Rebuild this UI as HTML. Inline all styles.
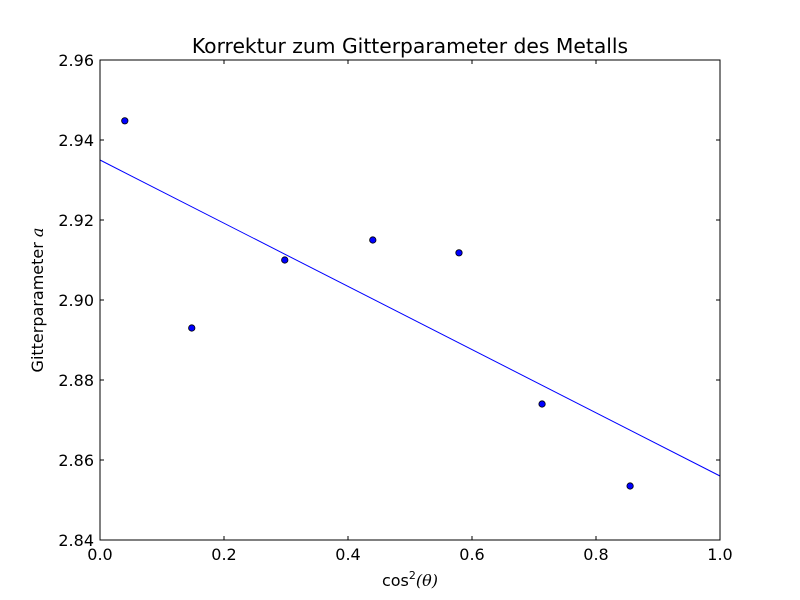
<!DOCTYPE html>
<html><head><meta charset="utf-8"><style>
body{margin:0;background:#fff;}
svg{display:block;font-family:"DejaVu Sans","Liberation Sans",sans-serif;}
</style></head><body>
<svg id="chart" width="800" height="600">
<rect x="0" y="0" width="800" height="600" fill="#fff"/>
<text x="410" y="53" text-anchor="middle" font-size="20.3">Korrektur zum Gitterparameter des Metalls</text>
<g id="ticks"></g>
<g id="marks"></g>
<rect x="100" y="60" width="620" height="480" fill="none" stroke="#000" stroke-width="1"/>
<text x="410" y="586" text-anchor="middle" font-size="16">cos<tspan font-size="11" dy="-7">2</tspan><tspan dy="7" font-family="'DejaVu Serif',serif" font-style="italic">(θ)</tspan></text>
<text transform="translate(43,300) rotate(-90)" text-anchor="middle" font-size="16">Gitterparameter <tspan font-family="'DejaVu Serif',serif" font-style="italic">a</tspan></text>
</svg>
<script>
const xData = [0.040, 0.148, 0.298, 0.440, 0.579, 0.713, 0.855];
const yData = [2.9448, 2.893, 2.910, 2.915, 2.9118, 2.874, 2.8535];
const fitX = [0.0, 1.0];
const fitY = [2.935, 2.856];
const xTicks = [0.0, 0.2, 0.4, 0.6, 0.8, 1.0];
const yTicks = [2.84, 2.86, 2.88, 2.90, 2.92, 2.94, 2.96];

const NS = "http://www.w3.org/2000/svg";
const X0=100, X1=720, Y0=540, Y1=60;
function sx(v){return X0+(v-0)/(1-0)*(X1-X0);}
function sy(v){return Y0-(v-2.84)/(2.96-2.84)*(Y0-Y1);}
function mk(tag, attrs, parent){const e=document.createElementNS(NS,tag);for(const k in attrs)e.setAttribute(k,attrs[k]);parent.appendChild(e);return e;}
const tg=document.getElementById('ticks'), mg=document.getElementById('marks');
xTicks.forEach(t=>{
  const x=sx(t);
  const a=mk('line',{x1:x,x2:x,y1:Y0,y2:Y0-4,stroke:'#000'},tg);
  
  
  const b=mk('line',{x1:x,x2:x,y1:Y1,y2:Y1+4,stroke:'#000'},tg);
  
  
  const l=mk('text',{x:x,y:Y0+20,'text-anchor':'middle','font-size':'16'},tg);
  l.textContent=t.toFixed(1);
  
  
});
yTicks.forEach(t=>{
  const y=sy(t);
  const a=mk('line',{x1:X0,x2:X0+4,y1:y,y2:y,stroke:'#000'},tg);
  
  
  const b=mk('line',{x1:X1,x2:X1-4,y1:y,y2:y,stroke:'#000'},tg);
  
  
  const l=mk('text',{x:X0-6,y:y+6,'text-anchor':'end','font-size':'16'},tg);
  l.textContent=t.toFixed(2);
  
  
});
const fl=mk('line',{x1:sx(fitX[0]),y1:sy(fitY[0]),x2:sx(fitX[1]),y2:sy(fitY[1]),stroke:'#0000ff','stroke-width':'1'},mg);


xData.forEach((v,i)=>{
  const c=mk('circle',{cx:sx(v),cy:sy(yData[i]),r:3.2,fill:'#0000ff',stroke:'#000','stroke-width':'0.8'},mg);
  
  
});
</script>
</body></html>
